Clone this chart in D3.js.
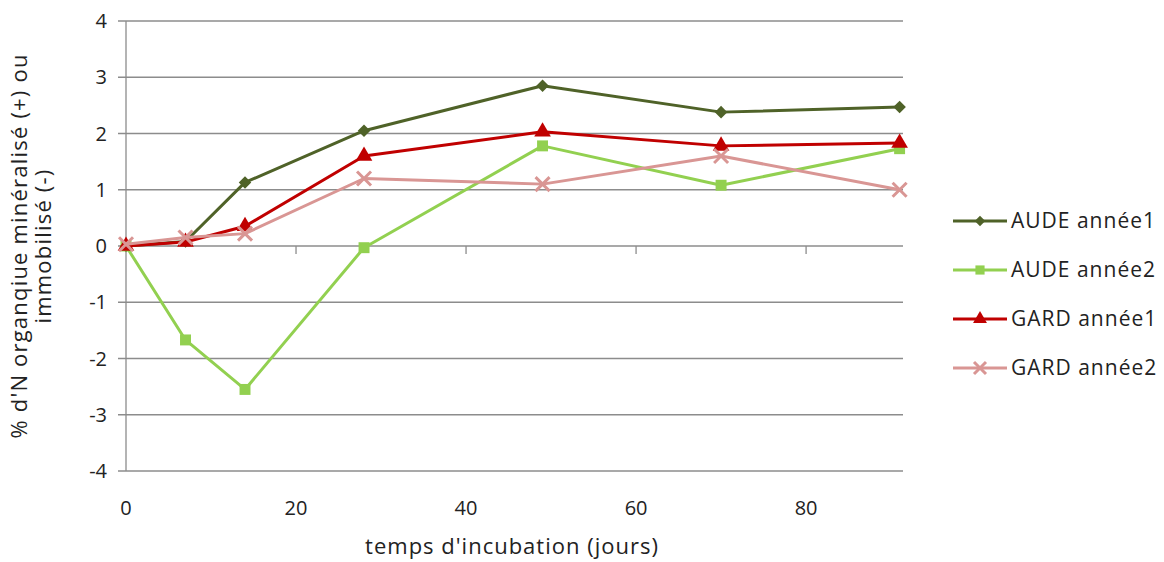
<!DOCTYPE html>
<html>
<head>
<meta charset="utf-8">
<script src="https://d3js.org/d3.v7.min.js"></script>
<style>
  body { margin: 0; background: #fff; }
  text { font-family: "Open Sans", "Liberation Sans", sans-serif; fill: #222; }
</style>
</head>
<body>
<script>
var days = [0, 7, 14, 28, 49, 70, 91];
var audeAnnee1 = [0, 0.08, 1.13, 2.05, 2.85, 2.38, 2.47];
var audeAnnee2 = [0, -1.67, -2.55, -0.03, 1.78, 1.08, 1.73];
var gardAnnee1 = [0, 0.07, 0.35, 1.6, 2.03, 1.78, 1.83];
var gardAnnee2 = [0.03, 0.15, 0.22, 1.2, 1.1, 1.6, 1.0];
var xTicks = [0, 20, 40, 60, 80];
var yTicks = [-4, -3, -2, -1, 0, 1, 2, 3, 4];

var series = [
  {name: "AUDE année1", values: audeAnnee1, color: "#4F6228", symbol: d3.symbolDiamond2, size: 100},
  {name: "AUDE année2", values: audeAnnee2, color: "#92D050", symbol: d3.symbolSquare, size: 120},
  {name: "GARD année1", values: gardAnnee1, color: "#C00000", symbol: d3.symbolTriangle, size: 120},
  {name: "GARD année2", values: gardAnnee2, color: "#D99694", symbol: "x", size: 14}
];

var width = 1164, height = 562;
var svg = d3.select("body").append("svg")
  .attr("width", width).attr("height", height);

var x = d3.scaleLinear().domain([0, 91.4]).range([126, 903]);
var y = d3.scaleLinear().domain([-4, 4]).range([471, 21]);

// horizontal gridlines
svg.append("g").selectAll("line")
  .data(yTicks)
  .enter().append("line")
  .attr("x1", 118).attr("x2", x.range()[1])
  .attr("y1", d => y(d)).attr("y2", d => y(d))
  .attr("stroke", "#8c8c8c").attr("stroke-width", 1.3);

// y axis line
svg.append("line")
  .attr("x1", x(0)).attr("x2", x(0))
  .attr("y1", y(4)).attr("y2", y(-4))
  .attr("stroke", "#8c8c8c").attr("stroke-width", 1.3);

// x tick marks on the zero line
svg.append("g").selectAll("line")
  .data(xTicks.filter(d => d > 0))
  .enter().append("line")
  .attr("x1", d => x(d)).attr("x2", d => x(d))
  .attr("y1", y(0)).attr("y2", y(0) + 8)
  .attr("stroke", "#8c8c8c").attr("stroke-width", 1.3);

// y tick labels
svg.append("g").selectAll("text")
  .data(yTicks)
  .enter().append("text")
  .attr("x", 107).attr("y", d => y(d) + 7)
  .attr("text-anchor", "end")
  .style("font-size", "20px")
  .text(d => d);

// x tick labels
svg.append("g").selectAll("text")
  .data(xTicks)
  .enter().append("text")
  .attr("x", d => x(d)).attr("y", 515)
  .attr("text-anchor", "middle")
  .style("font-size", "20px")
  .text(d => d);

// axis titles
svg.append("text")
  .attr("x", 512).attr("y", 554)
  .attr("text-anchor", "middle")
  .style("font-size", "22px")
  .style("letter-spacing", "1px")
  .text("temps d'incubation (jours)");

var yTitle = svg.append("text")
  .attr("transform", "translate(0,246) rotate(-90)")
  .attr("text-anchor", "middle")
  .style("font-size", "22px")
  .style("letter-spacing", "1.2px");
yTitle.append("tspan").attr("x", 0).attr("y", 27).text("% d'N organqiue minéralisé (+) ou");
yTitle.append("tspan").attr("x", 0).attr("y", 51).text("immobilisé (-)");

var line = d3.line()
  .x((d, i) => x(days[i]))
  .y(d => y(d));

function drawMarker(g, s, cx, cy) {
  if (s.symbol === "x") {
    var h = s.size / 2;
    g.append("path")
      .attr("d", "M" + (cx - h) + "," + (cy - h) + "L" + (cx + h) + "," + (cy + h) +
                 "M" + (cx - h) + "," + (cy + h) + "L" + (cx + h) + "," + (cy - h))
      .attr("stroke", s.color).attr("stroke-width", 3).attr("fill", "none");
  } else {
    g.append("path")
      .attr("d", d3.symbol().type(s.symbol).size(s.size)())
      .attr("transform", "translate(" + cx + "," + cy + ")")
      .attr("fill", s.color);
  }
}

series.forEach(function(s) {
  var g = svg.append("g");
  g.append("path")
    .datum(s.values)
    .attr("d", line)
    .attr("fill", "none")
    .attr("stroke", s.color)
    .attr("stroke-width", 3)
    .attr("stroke-linejoin", "round");
  s.values.forEach(function(v, i) {
    drawMarker(g, s, x(days[i]), y(v));
  });
});

// legend
var legend = svg.append("g");
series.forEach(function(s, i) {
  var ly = 221 + i * 49;
  legend.append("line")
    .attr("x1", 953).attr("x2", 1007)
    .attr("y1", ly).attr("y2", ly)
    .attr("stroke", s.color).attr("stroke-width", 3);
  var ms = Object.assign({}, s);
  if (s.symbol === "x") ms.size = 12; else ms.size = s.size * 0.7;
  drawMarker(legend, ms, 980, ly);
  legend.append("text")
    .attr("x", 1011).attr("y", ly + 7)
    .style("font-size", "21px")
    .style("letter-spacing", "1px")
    .text(s.name);
});
</script>
</body>
</html>
